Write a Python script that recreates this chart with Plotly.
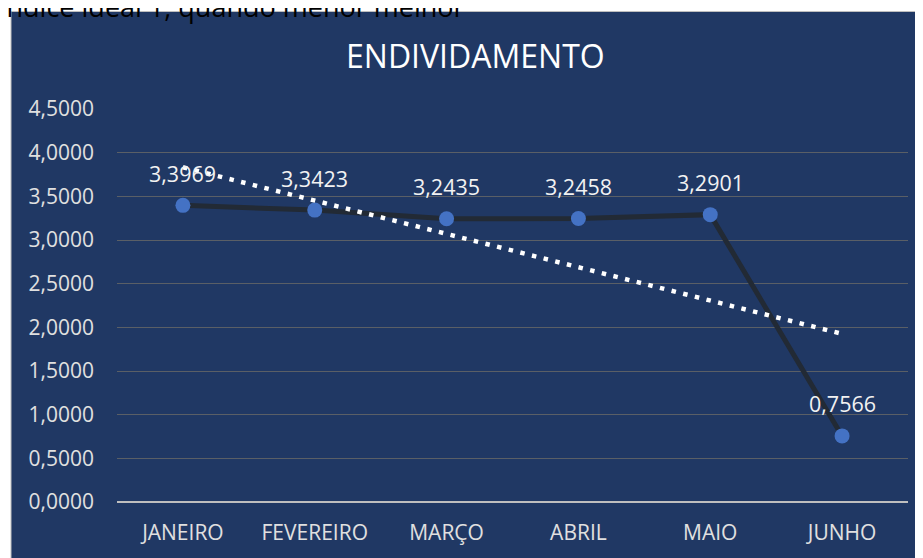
import numpy as np
import plotly.graph_objects as go

months = ["JANEIRO", "FEVEREIRO", "MARÇO", "ABRIL", "MAIO", "JUNHO"]
values = [3.3969, 3.3423, 3.2435, 3.2458, 3.2901, 0.7566]
y_ticks = [0, 0.5, 1.0, 1.5, 2.0, 2.5, 3.0, 3.5, 4.0, 4.5]
title_text = "ENDIVIDAMENTO"
note_text = "Índice ideal 1, quando menor melhor"

# linear trendline (as in the spreadsheet's trendline) fitted to the data
xi = np.arange(1, len(values) + 1)
slope, intercept = np.polyfit(xi, values, 1)
trend = slope * xi + intercept

OFF = 8  # page body margin
W, H = 923 - OFF, 558 - OFF
ML, MR, MT, MB = 117 - OFF, 15, 109 - OFF, 54
PW, PH = W - ML - MR, H - MT - MB
NAVY = "#203864"
FONT = "Open Sans"


def px(x):  # screen x -> paper
    return (x - OFF - ML) / PW


def py(y):  # screen y -> paper
    return (H - MB - (y - OFF)) / PH


fig = go.Figure()
fig.add_trace(go.Scatter(
    x=months, y=values, mode="lines+markers",
    line=dict(color="#222A35", width=5),
    marker=dict(color="#4472C4", size=15),
    hoverinfo="skip", showlegend=False,
))
fig.add_trace(go.Scatter(
    x=months, y=trend, mode="lines",
    line=dict(color="white", width=4.5, dash="4.5px,7.5px"),
    hoverinfo="skip", showlegend=False,
))

for m, v in zip(months, values):
    fig.add_annotation(
        x=m, y=v, xref="x", yref="y", showarrow=False,
        text=f"{v:.4f}".replace(".", ","),
        font=dict(family=FONT, size=21.5, color="#F2F2F2"),
        yshift=32, yanchor="middle",
    )

fig.add_annotation(
    x=px(0), y=py(6), xref="paper", yref="paper", xanchor="left", yanchor="middle",
    text=note_text, showarrow=False, xshift=-3,
    font=dict(family=FONT, size=27, color="black"),
)

fig.add_shape(
    type="rect", xref="paper", yref="paper", layer="below",
    x0=px(11), x1=px(935), y0=py(570), y1=py(11),
    fillcolor=NAVY, line=dict(color="#BFBFBF", width=1),
)

fig.add_annotation(
    x=px(475), y=py(55), xref="paper", yref="paper",
    xanchor="center", yanchor="middle", showarrow=False,
    text=title_text, font=dict(family=FONT, size=32, color="white"),
)

fig.update_layout(
    width=W, height=H, autosize=False,
    paper_bgcolor="white", plot_bgcolor=NAVY,
    margin=dict(l=ML, r=MR, t=MT, b=MB),
    separators=",.",
    font=dict(family=FONT),
)
fig.update_xaxes(
    type="category", range=[-0.5, 5.5], showgrid=False, zeroline=False,
    showline=False, ticks="",
    tickfont=dict(family=FONT, size=21, color="#E0E0E0"),
    ticklabelstandoff=16,
)
fig.update_yaxes(
    range=[0, 4.5], tickvals=y_ticks, tickformat=".4f",
    showgrid=True, gridcolor="#5A5F66", gridwidth=1,
    zeroline=True, zerolinecolor="#BFBFBF", zerolinewidth=2,
    showline=False, ticks="",
    tickfont=dict(family=FONT, size=21, color="#E0E0E0"),
    ticklabelstandoff=22,
)

fig.write_html("out.html")
